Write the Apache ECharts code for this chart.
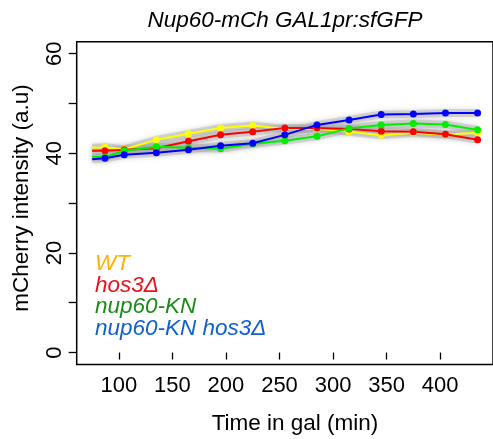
<!DOCTYPE html>
<html><head><meta charset="utf-8">
<script src="https://cdn.jsdelivr.net/npm/echarts@6/dist/echarts.min.js"></script>
<style>html,body{margin:0;padding:0;background:#fff}#c{width:493px;height:439px}</style>
</head><body><div id="c"></div>
<script>
const times = [75, 87, 105, 135, 165, 195, 225, 255, 285, 315, 345, 375, 405, 435];
const wt = [41.1, 41.2, 40.8, 42.7, 43.9, 45.1, 45.6, 44.9, 44.9, 44.3, 43.6, 44.1, 43.7, 44.1];
const hos3 = [40.5, 40.5, 40.7, 41.0, 42.4, 43.7, 44.3, 45.1, 45.1, 44.9, 44.4, 44.3, 43.8, 42.7];
const nup60KN = [39.3, 39.2, 40.5, 41.3, 41.1, 40.9, 41.9, 42.5, 43.4, 45.0, 45.7, 46.0, 45.8, 44.7];
const nup60KNhos3 = [38.8, 39.0, 39.7, 40.1, 40.7, 41.5, 42.0, 43.7, 45.7, 46.7, 47.8, 47.9, 48.1, 48.1];
const seriesNames = ['WT', 'hos3\u0394', 'nup60-KN', 'nup60-KN hos3\u0394'];
const lineColors = ['#ffff00', '#ff0000', '#00ee00', '#0000ff'];
const legendColors = ['#ffb300', '#e8141c', '#1a8a1a', '#1060d0'];
const xTicks = [100, 150, 200, 250, 300, 350, 400];
const yTicks = [0, 10, 20, 30, 40, 50, 60];
const yLabels = [0, 20, 40, 60];
const title = 'Nup60-mCh GAL1pr:sfGFP';
const xTitle = 'Time in gal (min)';
const yTitle = 'mCherry intensity (a.u)';

const allData = [wt, hos3, nup60KN, nup60KNhos3];
const font = 'Liberation Sans, Arial, sans-serif';

function pts(arr, withSym) {
  return arr.map((v, i) => {
    const d = {value: [times[i], v]};
    if (i === 0 || !withSym) d.symbol = 'none';
    return d;
  });
}

const series = [];
allData.forEach((arr, k) => {
  series.push({
    type: 'line', data: pts(arr, false), symbol: 'none', silent: true, z: 1,
    lineStyle: {width: 8, color: 'rgba(170,170,170,0.4)', shadowBlur: 5, shadowColor: 'rgba(150,150,150,0.8)'}
  });
});
allData.forEach((arr, k) => {
  series.push({
    type: 'line', name: seriesNames[k], data: pts(arr, true), symbol: 'circle', symbolSize: 7, z: 3,
    lineStyle: {width: 2, color: lineColors[k]}, itemStyle: {color: lineColors[k]}
  });
});

const chart = echarts.init(document.getElementById('c'), null, {renderer: 'canvas'});
chart.setOption({
  animation: false,
  backgroundColor: '#fff',
  grid: {left: 76.7, top: 41.7, right: -3, bottom: 74.5, show: true, borderColor: '#000', borderWidth: 1.5, backgroundColor: 'transparent'},
  xAxis: {
    type: 'value', min: 60.6, max: 449.4,
    splitLine: {show: false}, axisLine: {show: false},
    axisTick: {show: true, length: 7, lineStyle: {color: '#000', width: 1.3}, customValues: xTicks},
    axisLabel: {show: true, margin: 10, fontSize: 22, fontFamily: font, color: '#000', customValues: xTicks}
  },
  yAxis: {
    type: 'value', min: -2.4, max: 62.4,
    splitLine: {show: false}, axisLine: {show: false},
    axisTick: {show: true, length: 8, lineStyle: {color: '#000', width: 1.3}, customValues: yTicks},
    axisLabel: {show: true, rotate: 90, margin: 11, fontSize: 22, fontFamily: font, color: '#000', customValues: yLabels}
  },
  graphic: [
    {type: 'text', style: {x: 285, y: 21, text: title, font: 'italic 22.5px ' + font, fill: '#000', align: 'center', verticalAlign: 'middle'}},
    {type: 'text', style: {x: 295, y: 424, text: xTitle, font: '22.5px ' + font, fill: '#000', align: 'center', verticalAlign: 'middle'}},
    {type: 'text', rotation: Math.PI / 2, x: 22, y: 198, style: {x: 0, y: 0, text: yTitle, font: '22.5px ' + font, fill: '#000', align: 'center', verticalAlign: 'middle'}},
    {type: 'text', style: {x: 95, y: 264, text: seriesNames[0], font: 'italic 22.5px ' + font, fill: legendColors[0], verticalAlign: 'middle'}},
    {type: 'text', style: {x: 95, y: 285.5, text: seriesNames[1], font: 'italic 22.5px ' + font, fill: legendColors[1], verticalAlign: 'middle'}},
    {type: 'text', style: {x: 95, y: 307, text: seriesNames[2], font: 'italic 22.5px ' + font, fill: legendColors[2], verticalAlign: 'middle'}},
    {type: 'text', style: {x: 95, y: 328.5, text: seriesNames[3], font: 'italic 22.5px ' + font, fill: legendColors[3], verticalAlign: 'middle'}}
  ],
  series: series
});
</script></body></html>
